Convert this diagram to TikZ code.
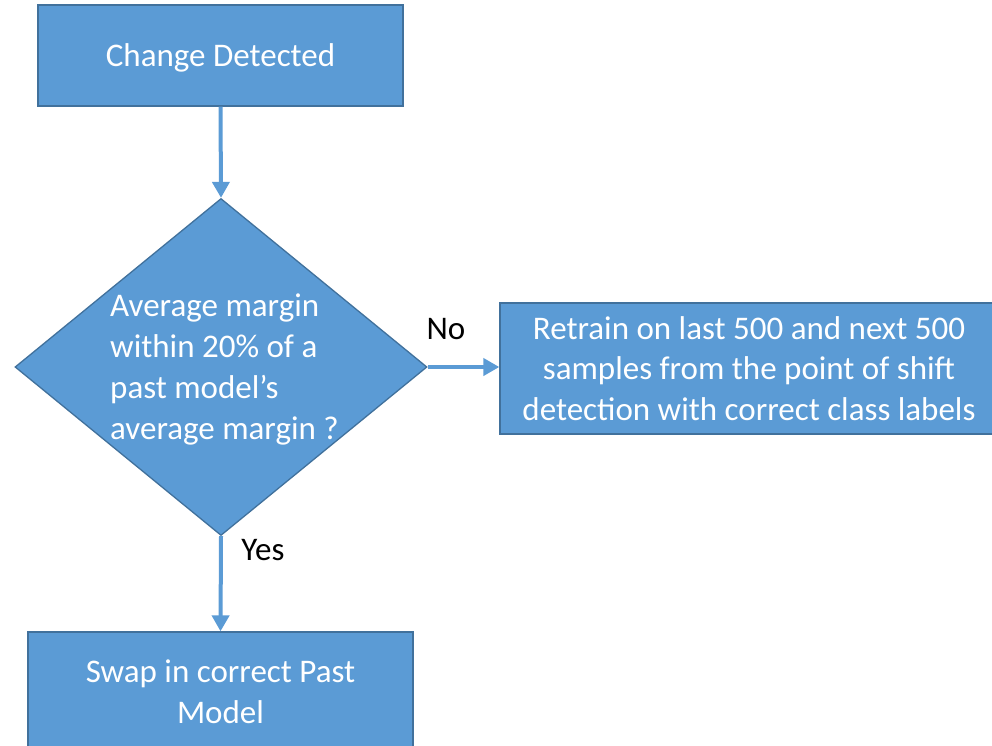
\documentclass[tikz,border=0pt]{standalone}
\usepackage{fontspec}
\setmainfont{Carlito}
\usetikzlibrary{shapes.geometric,arrows.meta}
\definecolor{boxfill}{HTML}{5B9BD5}
\definecolor{boxline}{HTML}{41719C}
\begin{document}
\begin{tikzpicture}[x=1pt,y=-1pt,
  box/.style={draw=boxline,line width=1.3pt,fill=boxfill,text=white,font=\fontsize{33}{40.7}\selectfont,align=center,inner sep=0pt},
  conn/.style={draw=boxfill,line width=4pt,-{Triangle[width=17pt,length=16pt]}},
  lbl/.style={font=\fontsize{33}{41}\selectfont,text=black,inner sep=0pt}]
\useasboundingbox (0,0) rectangle (992,746);
\clip (0,0) rectangle (992,746);
\node[box,minimum width=365pt,minimum height=101pt,text height=30pt,text depth=7.6pt] (det) at (220.5,55.5) {Change Detected};
\node[diamond,draw=boxline,fill=boxfill,line width=1.3pt,minimum width=412pt,minimum height=337pt,inner sep=0pt] (dec) at (221,367) {};
\node[lbl,text=white,align=left,anchor=west] (dtext) at (110,369.5) {Average margin\\within 20\% of a\\past model’s\\average margin ?};
\node[box,minimum width=498pt,minimum height=131pt] (ret) at (749,368.5) {Retrain on last 500 and next 500\\samples from the point of shift\\detection with correct class labels};
\node[box,minimum width=385pt,minimum height=120pt] (swap) at (220.5,692) {Swap in correct Past\\Model};
\draw[conn] (det.south) -- (dec.north);
\draw[conn] (dec.east) -- (dec.east -| ret.west);
\draw[conn] (dec.south) -- (swap.north);
\node[lbl] (no) at (446,329) {No};
\node[lbl] (yes) at (263,550) {Yes};
\end{tikzpicture}
\end{document}
